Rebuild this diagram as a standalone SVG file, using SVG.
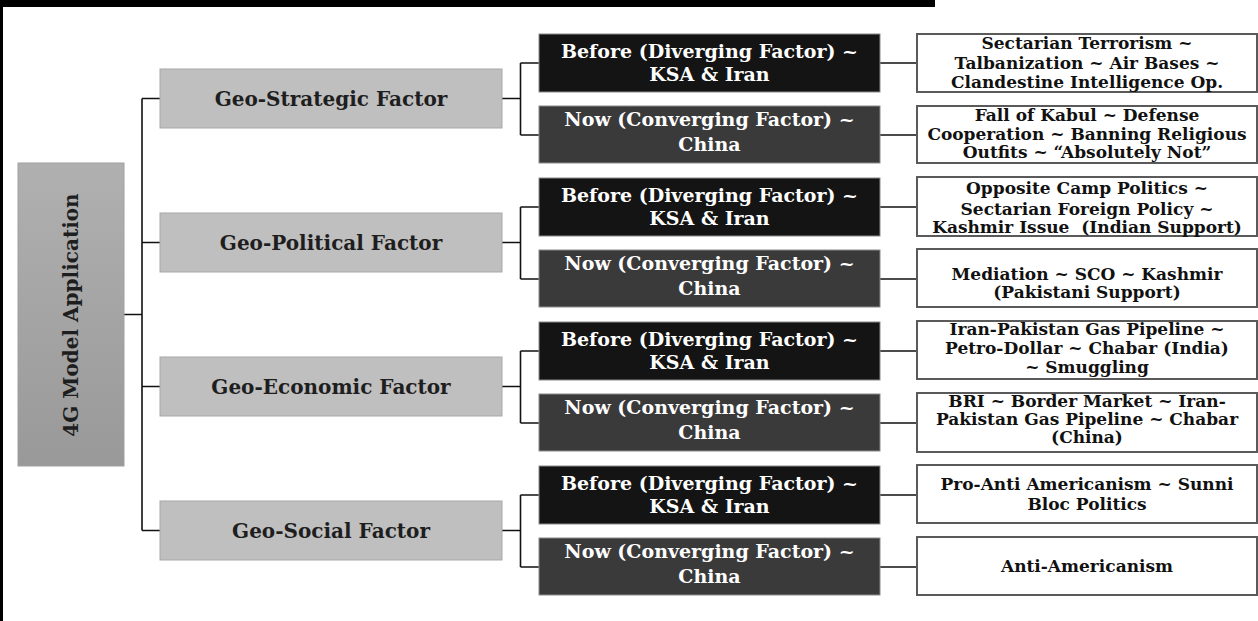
<svg xmlns="http://www.w3.org/2000/svg" width="1258" height="621" viewBox="0 0 1258 621">
<defs>
<linearGradient id="rootGrad" x1="0" y1="0" x2="0" y2="1">
<stop offset="0" stop-color="#b0b0b0"/>
<stop offset="1" stop-color="#999999"/>
</linearGradient>
<style>
text{font-family:"DejaVu Serif","Liberation Serif",serif;font-weight:bold;text-anchor:middle;white-space:pre}
.root{fill:url(#rootGrad);stroke:#a0a0a0;stroke-width:1}
.l1{fill:#bfbfbf;stroke:#a8a8a8;stroke-width:1}
.before{fill:#141414;stroke:#8a8a8a;stroke-width:1}
.now{fill:#3a3a3a;stroke:#8a8a8a;stroke-width:1}
.l3{fill:#ffffff;stroke:#5a5a5a;stroke-width:2}
.t0{font-size:20px;fill:#1e1e1e}
.t1{font-size:20px;fill:#1e1e1e}
.t2{font-size:19px;fill:#ffffff}
.t3{font-size:17px;fill:#111111}
.conn{fill:none;stroke:#111111;stroke-width:1.6}
</style>
</defs>
<rect x="0" y="0" width="1258" height="621" fill="#ffffff"/>
<rect x="0" y="0" width="935" height="7" fill="#000000"/>
<rect x="0" y="0" width="3" height="621" fill="#000000"/>

<g id="connectors" class="conn">
<path d="M124 314.5H142M142 98.5V530.5M142 98.5H160M142 242.5H160M142 386.5H160M142 530.5H160"/>
<path d="M502 98.5H520.5M520.5 63V135M520.5 63H539M520.5 135H539M880 63H917M880 135H917"/>
<path d="M502 242.5H520.5M520.5 207V279M520.5 207H539M520.5 279H539M880 207H917M880 279H917"/>
<path d="M502 386.5H520.5M520.5 351V423M520.5 351H539M520.5 423H539M880 351H917M880 423H917"/>
<path d="M502 530.5H520.5M520.5 495V567M520.5 495H539M520.5 567H539M880 495H917M880 567H917"/>
</g>

<g id="root">
<rect class="root" x="18" y="163" width="106" height="303"/>
<text class="t0" transform="translate(78 315) rotate(-90)">4G Model Application</text>
</g>

<g id="geo-strategic">
<rect class="l1" x="160" y="69" width="342" height="59"/>
<text class="t1" x="331" y="105.5">Geo-Strategic Factor</text>
</g>
<g id="geo-political">
<rect class="l1" x="160" y="213" width="342" height="59"/>
<text class="t1" x="331" y="249.5">Geo-Political Factor</text>
</g>
<g id="geo-economic">
<rect class="l1" x="160" y="357" width="342" height="59"/>
<text class="t1" x="331" y="393.5">Geo-Economic Factor</text>
</g>
<g id="geo-social">
<rect class="l1" x="160" y="501" width="342" height="59"/>
<text class="t1" x="331" y="537.5">Geo-Social Factor</text>
</g>

<g id="strategic-before">
<rect class="before" x="539" y="34" width="341" height="58"/>
<text class="t2" x="709.5" y="58">Before (Diverging Factor) ~</text>
<text class="t2" x="709.5" y="81">KSA &amp; Iran</text>
</g>
<g id="strategic-now">
<rect class="now" x="539" y="106" width="341" height="57"/>
<text class="t2" x="709.5" y="126">Now (Converging Factor) ~</text>
<text class="t2" x="709.5" y="151">China</text>
</g>
<g id="political-before">
<rect class="before" x="539" y="178" width="341" height="58"/>
<text class="t2" x="709.5" y="202">Before (Diverging Factor) ~</text>
<text class="t2" x="709.5" y="225">KSA &amp; Iran</text>
</g>
<g id="political-now">
<rect class="now" x="539" y="250" width="341" height="57"/>
<text class="t2" x="709.5" y="270">Now (Converging Factor) ~</text>
<text class="t2" x="709.5" y="295">China</text>
</g>
<g id="economic-before">
<rect class="before" x="539" y="322" width="341" height="58"/>
<text class="t2" x="709.5" y="346">Before (Diverging Factor) ~</text>
<text class="t2" x="709.5" y="369">KSA &amp; Iran</text>
</g>
<g id="economic-now">
<rect class="now" x="539" y="394" width="341" height="57"/>
<text class="t2" x="709.5" y="414">Now (Converging Factor) ~</text>
<text class="t2" x="709.5" y="439">China</text>
</g>
<g id="social-before">
<rect class="before" x="539" y="466" width="341" height="58"/>
<text class="t2" x="709.5" y="490">Before (Diverging Factor) ~</text>
<text class="t2" x="709.5" y="513">KSA &amp; Iran</text>
</g>
<g id="social-now">
<rect class="now" x="539" y="538" width="341" height="57"/>
<text class="t2" x="709.5" y="558">Now (Converging Factor) ~</text>
<text class="t2" x="709.5" y="583">China</text>
</g>

<g id="strategic-before-detail">
<rect class="l3" x="917" y="34" width="340" height="58"/>
<text class="t3" x="1087" y="49">Sectarian Terrorism ~</text>
<text class="t3" x="1087" y="69">Talbanization ~ Air Bases ~</text>
<text class="t3" x="1087" y="88">Clandestine Intelligence Op.</text>
</g>
<g id="strategic-now-detail">
<rect class="l3" x="917" y="106" width="340" height="57"/>
<text class="t3" x="1087" y="121">Fall of Kabul ~ Defense</text>
<text class="t3" x="1087" y="140">Cooperation ~ Banning Religious</text>
<text class="t3" x="1087" y="158">Outfits ~ “Absolutely Not”</text>
</g>
<g id="political-before-detail">
<rect class="l3" x="917" y="177" width="340" height="59"/>
<text class="t3" x="1087" y="194">Opposite Camp Politics ~</text>
<text class="t3" x="1087" y="215">Sectarian Foreign Policy ~</text>
<text class="t3" x="1087" y="233">Kashmir Issue  (Indian Support)</text>
</g>
<g id="political-now-detail">
<rect class="l3" x="917" y="249" width="340" height="58"/>
<text class="t3" x="1087" y="280">Mediation ~ SCO ~ Kashmir</text>
<text class="t3" x="1087" y="298">(Pakistani Support)</text>
</g>
<g id="economic-before-detail">
<rect class="l3" x="917" y="321" width="340" height="58"/>
<text class="t3" x="1087" y="335">Iran-Pakistan Gas Pipeline ~</text>
<text class="t3" x="1087" y="354">Petro-Dollar ~ Chabar (India)</text>
<text class="t3" x="1087" y="373">~ Smuggling</text>
</g>
<g id="economic-now-detail">
<rect class="l3" x="917" y="393" width="340" height="59"/>
<text class="t3" x="1087" y="407">BRI ~ Border Market ~ Iran-</text>
<text class="t3" x="1087" y="425">Pakistan Gas Pipeline ~ Chabar</text>
<text class="t3" x="1087" y="443">(China)</text>
</g>
<g id="social-before-detail">
<rect class="l3" x="917" y="465" width="340" height="58"/>
<text class="t3" x="1087" y="490">Pro-Anti Americanism ~ Sunni</text>
<text class="t3" x="1087" y="510">Bloc Politics</text>
</g>
<g id="social-now-detail">
<rect class="l3" x="917" y="537" width="340" height="58"/>
<text class="t3" x="1087" y="572">Anti-Americanism</text>
</g>
</svg>
